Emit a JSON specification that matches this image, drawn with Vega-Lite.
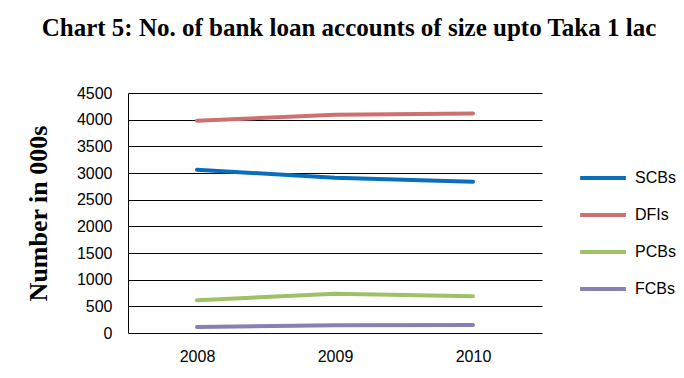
{
  "$schema": "https://vega.github.io/schema/vega-lite/v6.json",
  "width": 414,
  "height": 240,
  "autosize": {"type": "none"},
  "padding": {"left": 128, "top": 93, "right": 142, "bottom": 45},
  "background": "white",
  "title": {
    "text": "Chart 5: No. of bank loan accounts of size upto Taka 1 lac",
    "font": "Liberation Serif",
    "fontWeight": "bold",
    "fontSize": 25,
    "color": "black",
    "anchor": "middle",
    "frame": "group",
    "dx": 14,
    "offset": 44
  },
  "data": {
    "values": [
      {"year": "2008", "series": "SCBs", "value": 3060},
      {"year": "2009", "series": "SCBs", "value": 2910},
      {"year": "2010", "series": "SCBs", "value": 2835},
      {"year": "2008", "series": "DFIs", "value": 3980},
      {"year": "2009", "series": "DFIs", "value": 4090},
      {"year": "2010", "series": "DFIs", "value": 4115},
      {"year": "2008", "series": "PCBs", "value": 615},
      {"year": "2009", "series": "PCBs", "value": 735},
      {"year": "2010", "series": "PCBs", "value": 690},
      {"year": "2008", "series": "FCBs", "value": 112},
      {"year": "2009", "series": "FCBs", "value": 144},
      {"year": "2010", "series": "FCBs", "value": 150}
    ]
  },
  "mark": {"type": "line", "strokeWidth": 4, "strokeCap": "round"},
  "encoding": {
    "x": {
      "field": "year",
      "type": "ordinal",
      "scale": {"type": "point", "padding": 0.5},
      "axis": {
        "title": null,
        "labelAngle": 0,
        "labelFont": "Liberation Sans",
        "labelFontSize": 16,
        "labelColor": "black",
        "labelPadding": 15,
        "ticks": false,
        "domain": false,
        "grid": false
      }
    },
    "y": {
      "field": "value",
      "type": "quantitative",
      "scale": {"domain": [0, 4500], "nice": false},
      "axis": {
        "values": [0, 500, 1000, 1500, 2000, 2500, 3000, 3500, 4000, 4500],
        "format": "d",
        "title": "Number in 000s",
        "titleFont": "Liberation Serif",
        "titleFontWeight": "bold",
        "titleFontSize": 26,
        "titleColor": "black",
        "titlePadding": 25,
        "labelFont": "Liberation Sans",
        "labelFontSize": 16,
        "labelColor": "black",
        "labelPadding": 16,
        "ticks": false,
        "domain": true,
        "domainColor": "black",
        "domainWidth": 1,
        "grid": true,
        "gridColor": "black",
        "gridWidth": 1,
        "gridOpacity": 1
      }
    },
    "color": {
      "field": "series",
      "type": "nominal",
      "scale": {
        "domain": ["SCBs", "DFIs", "PCBs", "FCBs"],
        "range": ["#0a6ebd", "#cd7170", "#9fc165", "#8a7fb2"]
      },
      "legend": {
        "title": null,
        "orient": "none",
        "legendX": 450,
        "legendY": 60,
        "symbolType": "stroke",
        "symbolSize": 2100,
        "symbolStrokeWidth": 4,
        "labelFont": "Liberation Sans",
        "labelFontSize": 16,
        "labelColor": "black",
        "labelOffset": 7,
        "rowPadding": 4
      }
    }
  },
  "config": {"view": {"stroke": null}}
}
